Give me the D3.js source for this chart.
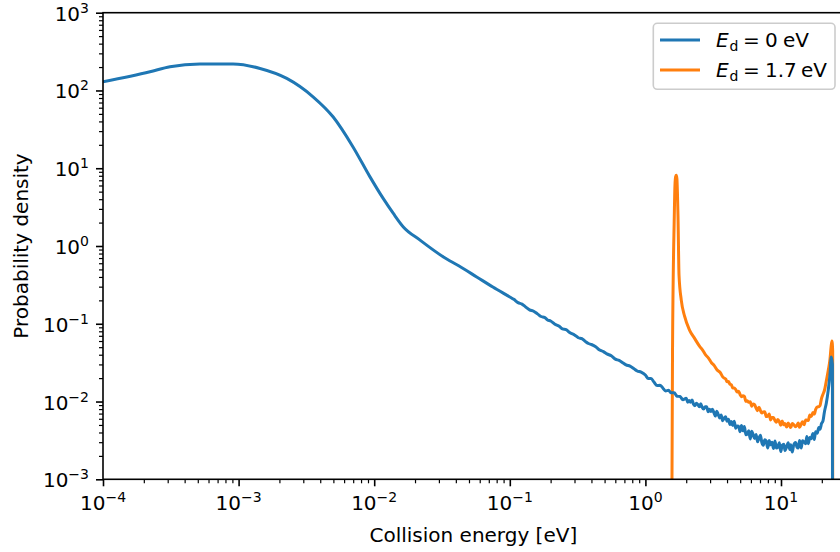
<!DOCTYPE html>
<html><head><meta charset="utf-8">
<script src="https://cdn.jsdelivr.net/npm/d3@7"></script>
<style>
body{margin:0;background:#fff}
svg{display:block}
text{font-family:"DejaVu Sans",sans-serif;fill:#000}
</style>
</head><body>
<svg id="chart" width="840" height="552"></svg>
<script>
// ---------- data ----------
const xLimits = [1e-4, 29];
const yLimits = [1e-3, 1e3];
const xMajorExps = [-4, -3, -2, -1, 0, 1];
const yMajorExps = [-3, -2, -1, 0, 1, 2, 3];
const xLabel = "Collision energy [eV]";
const yLabel = "Probability density";
const seriesNames = ["0", "1.7"];
const seriesColors = ["#1f77b4", "#ff7f0e"];

// E_d = 0 eV : energies [eV]
const blueE = [1e-4,2.22e-4,3.12e-4,5.19e-4,9.1e-4,1.439e-3,2.265e-3,3.54e-3,4.97e-3,6.98e-3,9.31e-3,
  1.161e-2,1.384e-2,1.64e-2,2.18e-2,3.24e-2,4.2e-2,5.7e-2,7.5e-2,
  0.10,0.107,0.115,0.123,0.13,0.14,0.15,0.16,0.17,0.18,0.19,0.20,0.215,0.23,0.245,0.26,0.28,0.30,0.32,0.34,0.36,0.38,0.40,0.43,0.46,0.49,0.52,0.56,0.60,0.64,0.68,0.72,0.77,0.82,0.87,0.93,
  1.0,1.05,1.1,1.16,1.22,1.28,1.34,1.41,1.48,1.55,1.63,1.71,1.8,1.89,
  2.00,2.05,2.10,2.15,2.21,2.26,2.32,2.38,2.44,2.50,2.56,2.62,2.69,2.76,2.83,2.90,2.97,3.04,
  3.12,3.20,3.28,3.36,3.44,3.53,3.62,3.71,3.80,3.90,4.00,4.10,4.20,4.30,4.41,4.52,4.63,4.75,4.87,4.99,
  5.11,5.24,5.37,5.51,5.64,5.78,5.93,6.08,6.23,6.39,6.55,6.71,6.88,7.05,7.23,7.41,7.59,7.78,7.98,8.18,8.38,8.59,8.81,9.03,9.25,9.48,9.72,9.96,
  10.2,10.5,10.7,11.0,11.3,11.6,11.8,12.1,12.4,12.8,13.1,13.4,13.7,14.1,14.4,14.8,15.2,15.5,15.9,16.3,16.7,17.2,17.6,
  18.0,18.5,19.0,19.4,19.9,20.4,20.9,21.6,22.3,23.0,23.49,23.95,24.0];
// E_d = 0 eV : probability density
const blueP = [129,174,202,219,219,192,143,83,45.9,18.8,7.74,
  4.12,2.62,1.76,1.19,0.724,0.556,0.400,0.297,
  0.221,0.206,0.187,0.179,0.166,0.151,0.145,0.134,0.124,0.121,0.112,0.1085,0.0987,0.0936,0.0858,0.0838,0.0760,0.0719,0.0661,0.0644,0.0594,0.0557,0.0541,0.0507,0.0459,0.0439,0.0410,0.0388,0.0351,0.0338,0.0316,0.0296,0.0285,0.0265,0.0247,0.0239,
  0.0219,0.01973,0.01979,0.01766,0.01607,0.01618,0.01506,0.01369,0.01392,0.01294,0.01295,0.01171,0.01159,0.01056,
  0.01103,0.00981,0.01033,0.00979,0.01043,0.00928,0.00885,0.00952,0.00914,0.00854,0.00935,0.00845,0.00800,0.00854,0.00854,0.00738,0.00795,0.00743,
  0.00797,0.00719,0.00650,0.00751,0.00685,0.00616,0.00670,0.00566,0.00606,0.00637,0.00558,0.00594,0.00508,0.00553,0.00492,0.00556,0.00453,0.00485,0.00482,0.00410,
  0.00491,0.00420,0.00479,0.00374,0.00383,0.00420,0.00330,0.00416,0.00374,0.00334,0.00378,0.00303,0.00337,0.00369,0.00294,0.00274,0.00323,0.00311,0.00253,0.00316,0.00278,0.00299,0.00249,0.00311,0.00252,0.00258,0.00296,0.00227,
  0.00273,0.00283,0.00233,0.0026,0.00296,0.00242,0.00279,0.00224,0.00275,0.00298,0.00261,0.00252,0.00316,0.00252,0.00314,0.00302,0.00287,0.00355,0.00287,0.00345,0.00333,0.00388,0.00324,
  0.00409,0.00391,0.00463,0.00440,0.00521,0.00563,0.00734,0.0096,0.0139,0.0229,0.0374,0.030,1e-7];

// E_d = 1.7 eV : energies [eV]
const orangeE = [1.562,1.585,1.633,1.652,1.672,1.69,1.708,1.722,1.74,1.77,1.84,1.945,2.12,2.3,2.52,
  2.65,2.78,2.92,3.07,3.22,3.38,3.55,3.73,3.92,
  4.00,4.10,4.20,4.30,4.41,4.52,4.63,4.75,4.87,4.99,5.11,5.24,5.37,5.51,5.64,5.78,5.93,6.08,
  6.23,6.39,6.55,6.71,6.88,7.05,7.23,7.41,7.59,7.78,7.98,8.18,8.38,8.59,8.81,9.03,9.25,9.48,9.72,9.96,
  10.2,10.5,10.7,11.0,11.3,11.6,11.8,12.1,12.4,12.8,13.1,13.4,13.7,14.1,14.4,14.8,15.2,15.5,15.9,16.3,16.7,17.2,17.6,18.0,
  18.5,19.0,19.4,19.9,20.4,20.9,21.6,22.3,23.0,23.4,23.74,24.05,24.1];
// E_d = 1.7 eV : probability density
const orangeP = [1e-4,0.0456,2.37,6.05,7.8,8.1,7.3,5.0,2.37,0.42,0.20,0.125,0.0824,0.0653,0.0508,
  0.0456,0.0398,0.0362,0.0315,0.0290,0.0254,0.0238,0.0206,0.0194,
  0.01791,0.01808,0.01673,0.01650,0.01488,0.01498,0.01430,0.01323,0.01356,0.01231,0.01156,0.01183,0.01162,0.01005,0.01026,0.00976,0.00997,0.00871,
  0.00927,0.00911,0.00822,0.00763,0.00847,0.00765,0.00711,0.00734,0.00739,0.00641,0.00648,0.00690,0.00580,0.00622,0.00623,0.00567,0.00541,0.00588,0.00553,0.00495,
  0.00560,0.00503,0.00520,0.00470,0.00530,0.00486,0.00462,0.00522,0.00506,0.00474,0.00494,0.00530,0.00466,0.00513,0.00548,0.00502,0.00579,0.00576,0.00572,0.00673,0.00640,0.00723,0.00689,0.00791,
  0.00854,0.00857,0.00886,0.0110,0.01241,0.01386,0.01855,0.0251,0.0355,0.050,0.060,0.045,1e-7];

// ---------- layout ----------
const L = 103, T = 12.7, B = 479.3, R = 843.7;
const svg = d3.select("#chart");
const x = d3.scaleLog().domain(xLimits).range([L, R]);
const y = d3.scaleLog().domain(yLimits).range([B, T]);

svg.append("defs").append("clipPath").attr("id","plotclip")
  .append("rect").attr("x",L).attr("y",T).attr("width",R-L).attr("height",B-T);

const line = d3.line().x(d=>x(d[0])).y(d=>y(d[1])).curve(d3.curveMonotoneX);
const series = [
  {E: blueE, P: blueP, color: seriesColors[0]},
  {E: orangeE, P: orangeP, color: seriesColors[1]}
];
const gLines = svg.append("g").attr("clip-path","url(#plotclip)");
// orange underneath, blue on top
[series[1], series[0]].forEach(s=>{
  gLines.append("path")
    .datum(s.E.map((e,i)=>[e, s.P[i]]))
    .attr("d", line)
    .attr("fill","none").attr("stroke", s.color)
    .attr("stroke-width",3).attr("stroke-linejoin","round").attr("stroke-linecap","butt");
});

// ---------- axes ----------
const sup = (g, exp) => {
  g.append("tspan").text("10");
  g.append("tspan").attr("font-size",14).attr("dy",-8)
    .text(exp < 0 ? "\u2212" + Math.abs(exp) : String(exp));
};

const xMinor = [];
xMajorExps.forEach(k=>{ for(let m=2;m<=9;m++){ const v=m*Math.pow(10,k); if(v<=xLimits[1]) xMinor.push(v);} });
const xAxisMinor = d3.axisBottom(x).tickValues(xMinor).tickSize(4).tickFormat("");
const xAxisMajor = d3.axisBottom(x).tickValues(xMajorExps.map(k=>Math.pow(10,k))).tickSize(7).tickFormat("");
[xAxisMinor, xAxisMajor].forEach((ax,i)=>{
  const g = svg.append("g").attr("transform",`translate(0,${B})`).call(ax);
  g.select(".domain").remove();
  g.selectAll("line").attr("stroke","#000").attr("stroke-width", i?1.6:1.2);
});
xMajorExps.forEach(k=>{
  const t = svg.append("text").attr("x", x(Math.pow(10,k))).attr("y", 510)
    .attr("text-anchor","middle").attr("font-size",20);
  sup(t,k);
});

const yMinor = [];
yMajorExps.forEach(k=>{ for(let m=2;m<=9;m++){ const v=m*Math.pow(10,k); if(v<=yLimits[1]) yMinor.push(v);} });
const yAxisMinor = d3.axisLeft(y).tickValues(yMinor).tickSize(4).tickFormat("");
const yAxisMajor = d3.axisLeft(y).tickValues(yMajorExps.map(k=>Math.pow(10,k))).tickSize(7).tickFormat("");
[yAxisMinor, yAxisMajor].forEach((ax,i)=>{
  const g = svg.append("g").attr("transform",`translate(${L},0)`).call(ax);
  g.select(".domain").remove();
  g.selectAll("line").attr("stroke","#000").attr("stroke-width", i?1.6:1.2);
});
yMajorExps.forEach(k=>{
  const t = svg.append("text").attr("x", 89).attr("y", y(Math.pow(10,k))+8)
    .attr("text-anchor","end").attr("font-size",20);
  sup(t,k);
});

// frame
svg.append("rect").attr("x",L).attr("y",T).attr("width",R-L).attr("height",B-T)
  .attr("fill","none").attr("stroke","#000").attr("stroke-width",1.6);

// axis labels
svg.append("text").attr("x",(L+R)/2).attr("y",542).attr("text-anchor","middle")
  .attr("font-size",20).text(xLabel);
svg.append("text").attr("transform",`translate(28,${(T+B)/2}) rotate(-90)`)
  .attr("text-anchor","middle").attr("font-size",20).text(yLabel);

// ---------- legend ----------
const lg = svg.append("g");
lg.append("rect").attr("x",653.3).attr("y",23.3).attr("width",181.7).attr("height",66)
  .attr("rx",4).attr("fill","#fff").attr("fill-opacity",0.8)
  .attr("stroke","#cccccc").attr("stroke-width",1.6);
const valEnd = [783, 801];
series.forEach((s,i)=>{
  const yl = 40 + i*30;
  lg.append("line").attr("x1",660).attr("x2",700).attr("y1",yl).attr("y2",yl)
    .attr("stroke",s.color).attr("stroke-width",3);
  const t = lg.append("text").attr("y", yl+6.6).attr("font-size",20);
  t.append("tspan").attr("x",716).attr("font-style","italic").text("E");
  t.append("tspan").attr("x",729.5).attr("dy",4).attr("font-size",14).text("d");
  t.append("tspan").attr("x",743).attr("dy",-4).text("=");
  t.append("tspan").attr("x",765).text(seriesNames[i]);
  t.append("tspan").attr("x",valEnd[i]).text("eV");
});
</script>
</body></html>
